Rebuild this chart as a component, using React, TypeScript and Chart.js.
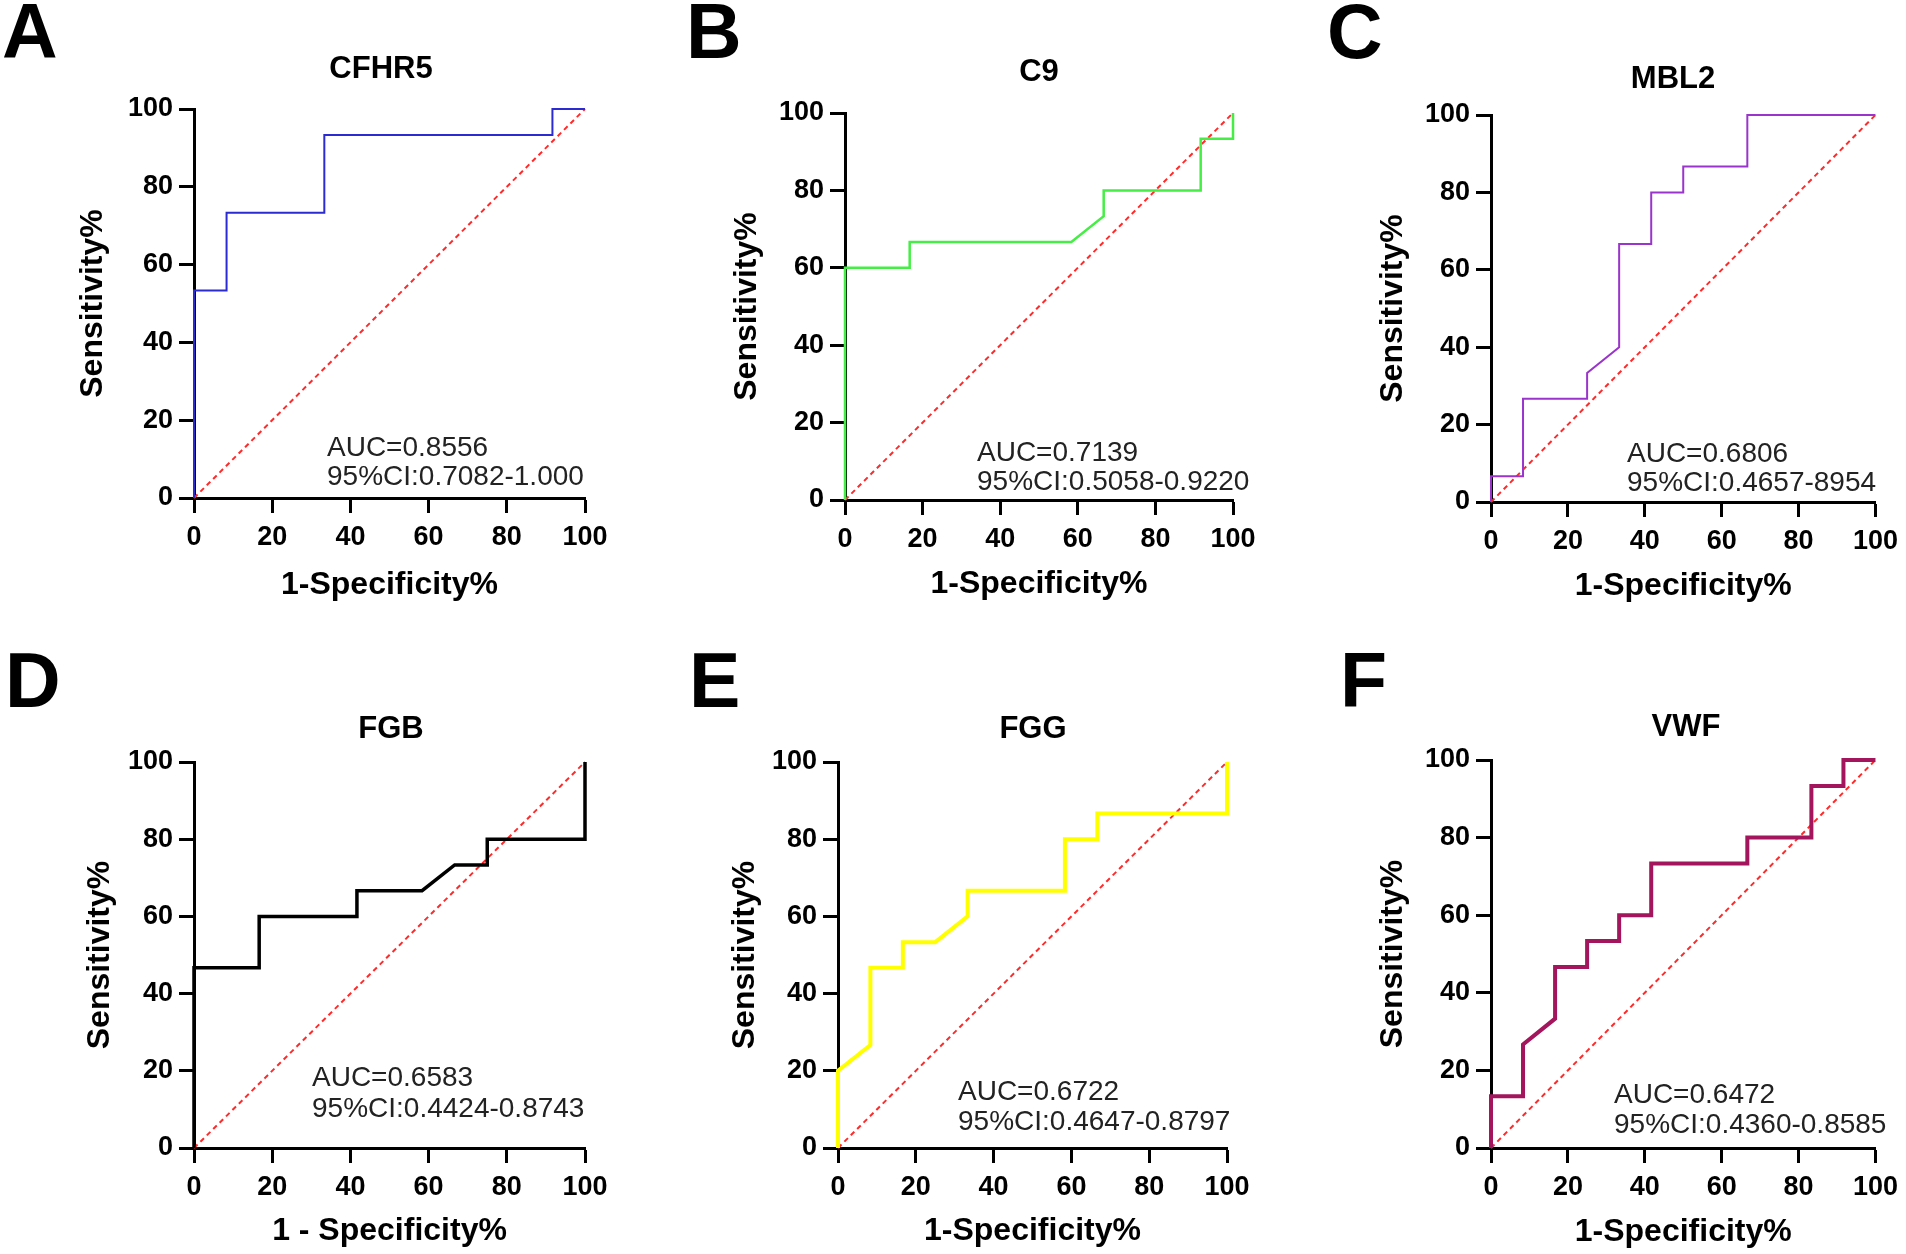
import React, { useEffect, useRef } from "react";
import { Chart, registerables } from "chart.js";

Chart.register(...registerables);

const FONT = "'Liberation Sans', Arial, Helvetica, sans-serif";

// ---- data (1-Specificity % , Sensitivity %) ----
const cfhr5Fpr = [0, 0, 8.33, 8.33, 33.33, 33.33, 91.67, 91.67, 100];
const cfhr5Tpr = [0, 53.33, 53.33, 73.33, 73.33, 93.33, 93.33, 100, 100];

const c9Fpr = [0, 0, 16.67, 16.67, 58.33, 66.67, 66.67, 91.67, 91.67, 100, 100];
const c9Tpr = [0, 60, 60, 66.67, 66.67, 73.33, 80, 80, 93.33, 93.33, 100];

const mbl2Fpr = [0, 0, 8.33, 8.33, 25, 25, 33.33, 33.33, 41.67, 41.67, 50, 50, 66.67, 66.67, 100];
const mbl2Tpr = [0, 6.67, 6.67, 26.67, 26.67, 33.33, 40, 66.67, 66.67, 80, 80, 86.67, 86.67, 100, 100];

const fgbFpr = [0, 0, 16.67, 16.67, 41.67, 41.67, 58.33, 66.67, 75, 75, 100, 100];
const fgbTpr = [0, 46.67, 46.67, 60, 60, 66.67, 66.67, 73.33, 73.33, 80, 80, 100];

const fggFpr = [0, 0, 8.33, 8.33, 16.67, 16.67, 25, 33.33, 33.33, 58.33, 58.33, 66.67, 66.67, 100, 100];
const fggTpr = [0, 20, 26.67, 46.67, 46.67, 53.33, 53.33, 60, 66.67, 66.67, 80, 80, 86.67, 86.67, 100];

const vwfFpr = [0, 0, 8.33, 8.33, 16.67, 16.67, 25, 25, 33.33, 33.33, 41.67, 41.67, 66.67, 66.67, 83.33, 83.33, 91.67, 91.67, 100];
const vwfTpr = [0, 13.33, 13.33, 26.67, 33.33, 46.67, 46.67, 53.33, 53.33, 60, 60, 73.33, 73.33, 80, 80, 93.33, 93.33, 100, 100];

const refFpr = [0, 100];
const refTpr = [0, 100];

const tickValues = [0, 20, 40, 60, 80, 100];

const letters = ["A", "B", "C", "D", "E", "F"];
const titles = ["CFHR5", "C9", "MBL2", "FGB", "FGG", "VWF"];
const xTitles = ["1-Specificity%", "1-Specificity%", "1-Specificity%", "1 - Specificity%", "1-Specificity%", "1-Specificity%"];
const yTitle = "Sensitivity%";
const aucTexts = ["AUC=0.8556", "AUC=0.7139", "AUC=0.6806", "AUC=0.6583", "AUC=0.6722", "AUC=0.6472"];
const ciTexts = [
  "95%CI:0.7082-1.000",
  "95%CI:0.5058-0.9220",
  "95%CI:0.4657-8954",
  "95%CI:0.4424-0.8743",
  "95%CI:0.4647-0.8797",
  "95%CI:0.4360-0.8585",
];
const fprSeries = [cfhr5Fpr, c9Fpr, mbl2Fpr, fgbFpr, fggFpr, vwfFpr];
const tprSeries = [cfhr5Tpr, c9Tpr, mbl2Tpr, fgbTpr, fggTpr, vwfTpr];

// ---- styling / layout (page coordinates) ----
const styles = [
  { color: "#2b2bd0", lw: 2 },
  { color: "#44ee44", lw: 2.5 },
  { color: "#9a35cc", lw: 2 },
  { color: "#000000", lw: 3.5 },
  { color: "#ffff00", lw: 4 },
  { color: "#a3155c", lw: 4 },
];

const layouts = [
  { box: { x: 0, y: 0, w: 640, h: 630 }, area: { L: 194, T: 109, R: 585, B: 498 }, yW: 117, xH: 103, letter: { x: 2, y: 58 }, title: { x: 381, y: 78 }, text: { x: 327, y1: 456, y2: 485 } },
  { box: { x: 640, y: 0, w: 640, h: 630 }, area: { L: 845, T: 113, R: 1233, B: 500 }, yW: 114, xH: 100, letter: { x: 686, y: 58 }, title: { x: 1039, y: 81 }, text: { x: 977, y1: 461, y2: 490 } },
  { box: { x: 1280, y: 0, w: 626, h: 630 }, area: { L: 1491, T: 115, R: 1881, B: 502 }, yW: 114, xH: 100, letter: { x: 1327, y: 58 }, title: { x: 1673, y: 88 }, text: { x: 1627, y1: 462, y2: 491 } },
  { box: { x: 0, y: 630, w: 640, h: 624 }, area: { L: 194, T: 762, R: 585, B: 1148 }, yW: 110, xH: 99, letter: { x: 5, y: 707 }, title: { x: 391, y: 738 }, text: { x: 312, y1: 1086, y2: 1117 } },
  { box: { x: 640, y: 630, w: 640, h: 624 }, area: { L: 838, T: 762, R: 1227, B: 1148 }, yW: 109, xH: 99, letter: { x: 689, y: 707 }, title: { x: 1033, y: 738 }, text: { x: 958, y1: 1100, y2: 1130 } },
  { box: { x: 1280, y: 630, w: 626, h: 624 }, area: { L: 1491, T: 760, R: 1881, B: 1148 }, yW: 114, xH: 100, letter: { x: 1340, y: 707 }, title: { x: 1686, y: 736 }, text: { x: 1614, y1: 1103, y2: 1133 } },
];

function Panel({ idx }: { idx: number }) {
  const ref = useRef<HTMLCanvasElement | null>(null);
  const lay = layouts[idx];
  const { box, area } = lay;

  useEffect(() => {
    if (!ref.current) return;
    const st = styles[idx];
    const fpr = fprSeries[idx];
    const tpr = tprSeries[idx];

    const overlay = {
      id: "overlayText" + idx,
      afterDraw(chart: any) {
        const ctx = chart.ctx;
        ctx.save();
        ctx.fillStyle = "#000";
        ctx.textBaseline = "alphabetic";
        ctx.textAlign = "left";
        ctx.font = `bold 77px ${FONT}`;
        ctx.fillText(letters[idx], lay.letter.x - box.x, lay.letter.y - box.y);
        ctx.textAlign = "center";
        ctx.font = `bold 31px ${FONT}`;
        ctx.fillText(titles[idx], lay.title.x - box.x, lay.title.y - box.y);
        ctx.textAlign = "left";
        ctx.fillStyle = "#222";
        ctx.font = `28px ${FONT}`;
        ctx.fillText(aucTexts[idx], lay.text.x - box.x, lay.text.y1 - box.y);
        ctx.fillText(ciTexts[idx], lay.text.x - box.x, lay.text.y2 - box.y);
        ctx.restore();
      },
    };

    const tickFont = { family: FONT, size: 27, weight: "bold" as const };
    const titleFont = { family: FONT, size: 32, weight: "bold" as const, lineHeight: 1 };
    const setTicks = (s: any) => {
      s.ticks = tickValues.map((v) => ({ value: v }));
    };

    const chart = new Chart(ref.current, {
      type: "scatter",
      data: {
        datasets: [
          {
            data: refFpr.map((x, i) => ({ x, y: refTpr[i] })),
            showLine: true,
            borderColor: "#ff2a2a",
            borderWidth: 2,
            borderDash: [5, 4],
            pointRadius: 0,
            clip: false as any,
            order: 2,
          } as any,
          {
            data: fpr.map((x, i) => ({ x, y: tpr[i] })),
            showLine: true,
            borderColor: st.color,
            borderWidth: st.lw,
            borderJoinStyle: "miter",
            pointRadius: 0,
            clip: false as any,
            order: 1,
          } as any,
        ],
      },
      options: {
        animation: false,
        responsive: false,
        layout: {
          padding: {
            left: area.L - box.x - lay.yW,
            top: area.T - box.y,
            right: box.x + box.w - area.R,
            bottom: box.y + box.h - area.B - lay.xH,
          },
        },
        plugins: {
          legend: { display: false },
          tooltip: { enabled: false },
          title: { display: false },
        },
        scales: {
          x: {
            type: "linear",
            min: 0,
            max: 100,
            afterBuildTicks: setTicks,
            afterFit: (s: any) => {
              s.height = lay.xH;
            },
            border: { display: true, color: "#000", width: 3 },
            grid: { drawOnChartArea: false, drawTicks: true, tickLength: 15, tickWidth: 3, tickColor: "#000" },
            ticks: { color: "#000", font: tickFont, padding: 8, maxRotation: 0, autoSkip: false },
            title: { display: true, text: xTitles[idx], color: "#000", font: titleFont, padding: 0 },
          },
          y: {
            type: "linear",
            min: 0,
            max: 100,
            afterBuildTicks: setTicks,
            afterFit: (s: any) => {
              s.width = lay.yW;
            },
            border: { display: true, color: "#000", width: 3 },
            grid: { drawOnChartArea: false, drawTicks: true, tickLength: 15, tickWidth: 3, tickColor: "#000" },
            ticks: { color: "#000", font: tickFont, padding: 6, autoSkip: false },
            title: { display: true, text: yTitle, color: "#000", font: titleFont, padding: 0 },
          },
        },
      } as any,
      plugins: [overlay],
    });
    return () => chart.destroy();
  }, [idx]);

  return (
    <canvas
      ref={ref}
      width={box.w}
      height={box.h}
      style={{ position: "absolute", left: box.x, top: box.y, width: box.w, height: box.h, display: "block" }}
    />
  );
}

export default function App() {
  return (
    <div style={{ position: "absolute", left: 0, top: 0, width: 1906, height: 1254, background: "#fff" }}>
      {layouts.map((_, i) => (
        <Panel key={i} idx={i} />
      ))}
    </div>
  );
}
